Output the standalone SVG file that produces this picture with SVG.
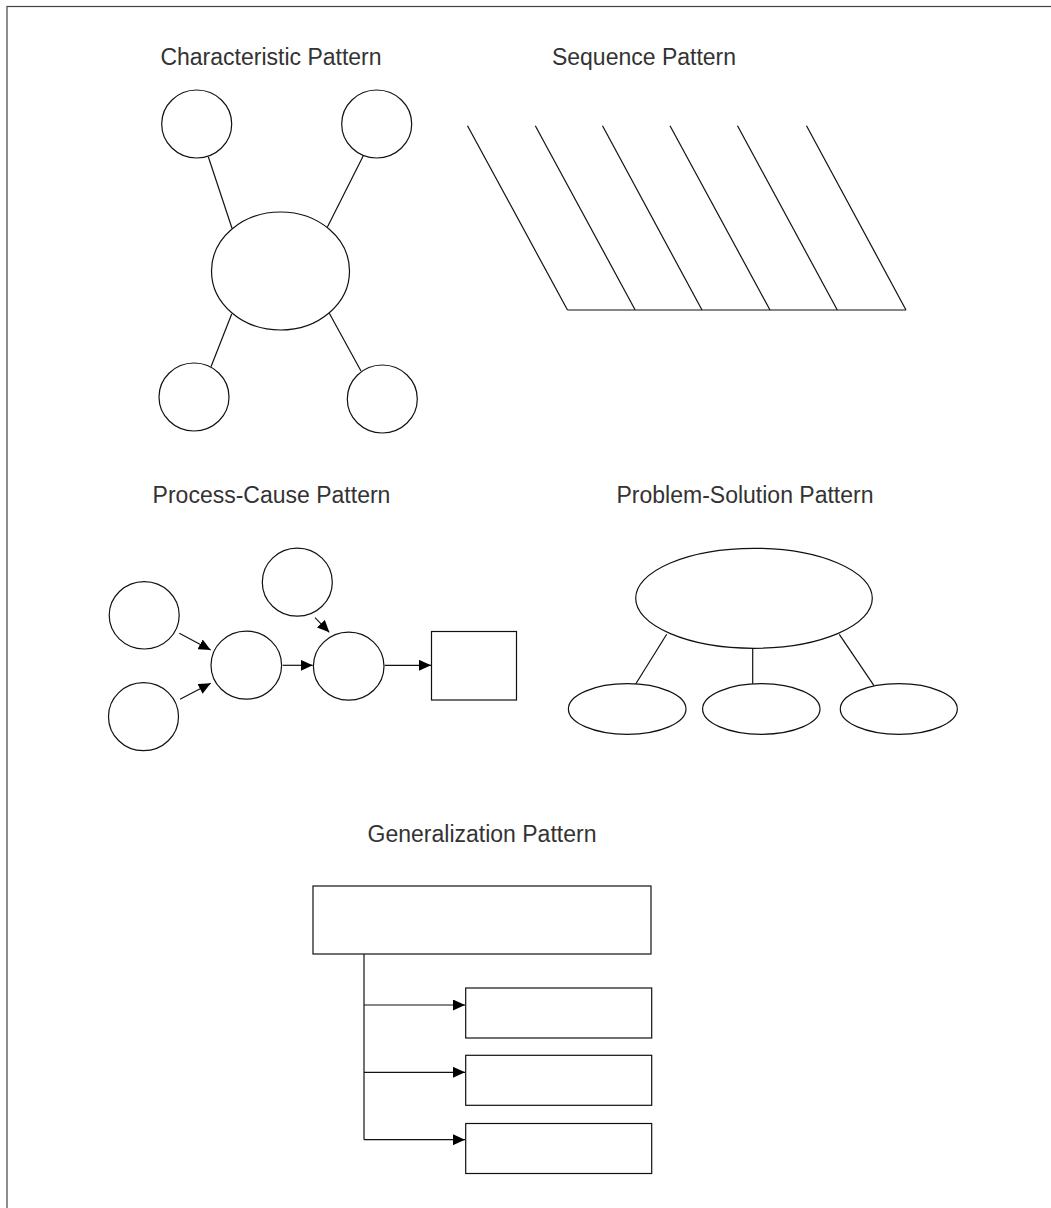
<svg xmlns="http://www.w3.org/2000/svg" width="1051" height="1208" viewBox="0 0 1051 1208">
<style>
.s{fill:#fff;stroke:#111;stroke-width:1.2}
.l{fill:none;stroke:#111;stroke-width:1.2}
.t{font-family:"Liberation Sans",Arial,sans-serif;font-size:23px;fill:#333;text-anchor:middle}
</style>
<defs>
<marker id="ah" markerUnits="userSpaceOnUse" markerWidth="12" markerHeight="11" refX="12" refY="5.5" orient="auto">
<path d="M0,0 L12,5.5 L0,11 z" fill="#000"/>
</marker>
</defs>
<rect x="0" y="0" width="1051" height="1208" fill="#fff"/>
<rect x="7" y="6.5" width="1100" height="1300" fill="none" stroke="#444" stroke-width="1.2"/>

<g id="titles">
<text class="t" x="271" y="65">Characteristic Pattern</text>
<text class="t" x="644" y="65">Sequence Pattern</text>
<text class="t" x="271.5" y="503">Process-Cause Pattern</text>
<text class="t" x="745" y="503">Problem-Solution Pattern</text>
<text class="t" x="482" y="842">Generalization Pattern</text>
</g>

<g id="connectors">
<line class="l" x1="208.3" y1="156.7" x2="232" y2="228.3"/>
<line class="l" x1="363.3" y1="155.7" x2="327.3" y2="227.3"/>
<line class="l" x1="231.7" y1="314" x2="211" y2="366.7"/>
<line class="l" x1="329.3" y1="313.3" x2="361" y2="371"/>

<line class="l" x1="467.5" y1="125.7" x2="567.5" y2="310"/>
<line class="l" x1="535.3" y1="125.7" x2="635.2" y2="310"/>
<line class="l" x1="602.5" y1="125.7" x2="702" y2="310"/>
<line class="l" x1="670" y1="125.7" x2="770" y2="310"/>
<line class="l" x1="737.5" y1="125.7" x2="837.3" y2="310"/>
<line class="l" x1="806.5" y1="125.7" x2="906" y2="310"/>
<line class="l" x1="567.5" y1="310" x2="906" y2="310"/>

<line class="l" x1="179.3" y1="633.3" x2="210.7" y2="650" marker-end="url(#ah)"/>
<line class="l" x1="180" y1="699.3" x2="210.7" y2="683.3" marker-end="url(#ah)"/>
<line class="l" x1="282.7" y1="665.3" x2="312.7" y2="665.3" marker-end="url(#ah)"/>
<line class="l" x1="315" y1="617.7" x2="329.3" y2="632.3" marker-end="url(#ah)"/>
<line class="l" x1="384.7" y1="665.3" x2="431" y2="665.3" marker-end="url(#ah)"/>

<line class="l" x1="666.7" y1="634.3" x2="635.7" y2="684"/>
<line class="l" x1="752.7" y1="648.3" x2="752.7" y2="683.7"/>
<line class="l" x1="839.3" y1="634.3" x2="874" y2="685.7"/>

<polyline class="l" points="364,954 364,1139.7"/>
<line class="l" x1="364" y1="1005" x2="465" y2="1005" marker-end="url(#ah)"/>
<line class="l" x1="364" y1="1072.3" x2="465" y2="1072.3" marker-end="url(#ah)"/>
<line class="l" x1="364" y1="1139.7" x2="465" y2="1139.7" marker-end="url(#ah)"/>
</g>

<g id="char-tl"><ellipse class="s" cx="196.7" cy="124" rx="35" ry="34"/></g>
<g id="char-tr"><ellipse class="s" cx="376.7" cy="124" rx="35" ry="34"/></g>
<g id="char-center"><ellipse class="s" cx="280.5" cy="271" rx="69" ry="59"/></g>
<g id="char-bl"><ellipse class="s" cx="194" cy="397" rx="35" ry="34"/></g>
<g id="char-br"><ellipse class="s" cx="382.3" cy="399" rx="35" ry="34"/></g>

<g id="pc-a"><ellipse class="s" cx="144.2" cy="615.3" rx="35" ry="33.7"/></g>
<g id="pc-b"><ellipse class="s" cx="143.5" cy="716.7" rx="35" ry="34"/></g>
<g id="pc-c"><ellipse class="s" cx="246.3" cy="665.2" rx="35.3" ry="34"/></g>
<g id="pc-d"><ellipse class="s" cx="297.3" cy="582.2" rx="35" ry="34"/></g>
<g id="pc-e"><ellipse class="s" cx="348.7" cy="666.2" rx="35.3" ry="34"/></g>
<g id="pc-rect"><rect class="s" x="431.5" y="631.5" width="85" height="68.5"/></g>

<g id="ps-top"><ellipse class="s" cx="754" cy="598.3" rx="118.3" ry="50"/></g>
<g id="ps-l"><ellipse class="s" cx="627.2" cy="709" rx="58.8" ry="25.3"/></g>
<g id="ps-m"><ellipse class="s" cx="761.3" cy="709" rx="58.7" ry="25.3"/></g>
<g id="ps-r"><ellipse class="s" cx="898.8" cy="709" rx="58.5" ry="25.3"/></g>

<g id="gen-top"><rect class="s" x="313" y="886" width="338" height="68"/></g>
<g id="gen-1"><rect class="s" x="465.7" y="988" width="186" height="50"/></g>
<g id="gen-2"><rect class="s" x="465.7" y="1055.3" width="186" height="50"/></g>
<g id="gen-3"><rect class="s" x="465.7" y="1123.5" width="186" height="50"/></g>
</svg>
